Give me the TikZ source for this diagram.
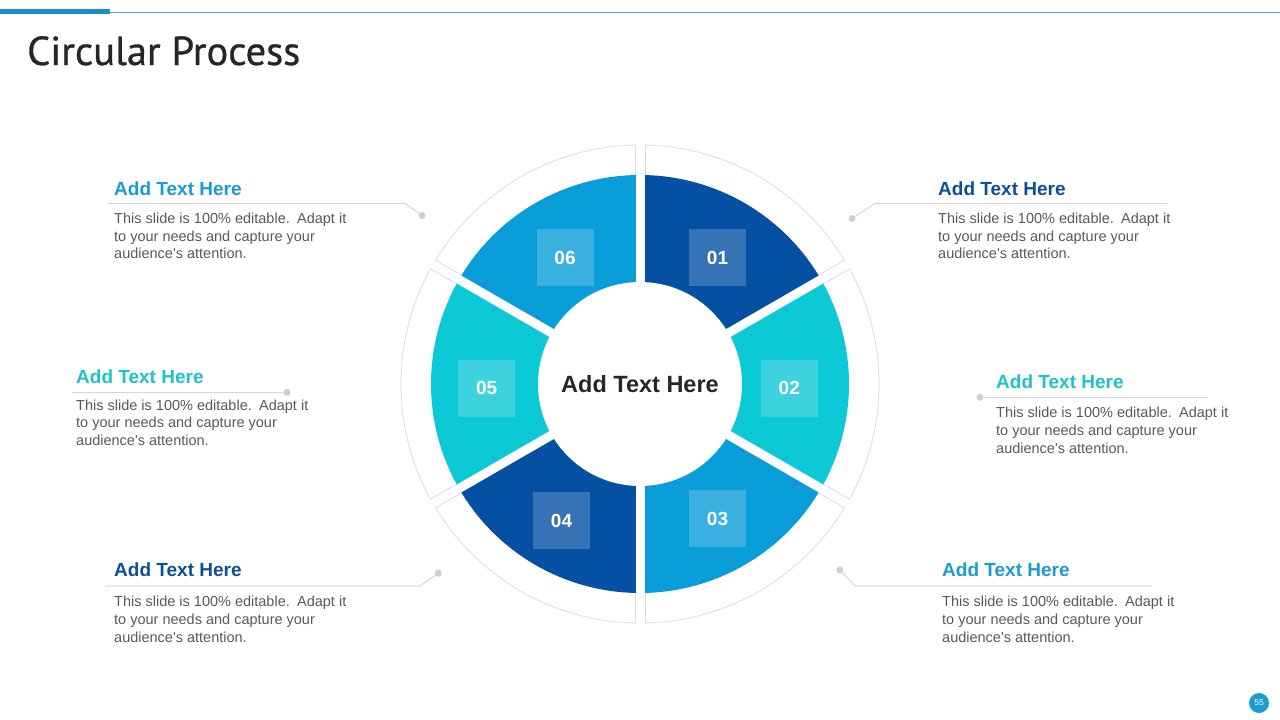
\documentclass[tikz,border=0pt]{standalone}
\usepackage{fontspec}
\setmainfont{Liberation Sans}
\newfontfamily\titlefont[FakeBold=0.7]{PT Sans}
\definecolor{dblue}{HTML}{0450A2}
\definecolor{cyanc}{HTML}{0CC9D6}
\definecolor{mblue}{HTML}{099DD9}
\definecolor{tdblue}{HTML}{0D4F95}
\definecolor{tcyan}{HTML}{1EC2CC}
\definecolor{tmblue}{HTML}{1A9BD2}
\definecolor{bodygrey}{HTML}{595959}
\definecolor{linegrey}{HTML}{D6D6D6}
\definecolor{dotgrey}{HTML}{CFCFCF}
\definecolor{ringgrey}{HTML}{DCDCDC}
\definecolor{darktext}{HTML}{262626}
\definecolor{barblue}{HTML}{1B8DC9}
\definecolor{barteal}{HTML}{40B3CC}
\definecolor{pageblue}{HTML}{1E9AD6}
\newcommand{\bodytext}{This slide is 100\% editable.\hspace{0.5em}Adapt it\\to your needs and capture your\\audience\textquotesingle s attention.}
\begin{document}
\begin{tikzpicture}[x=1pt,y=-1pt,
  heading/.style={anchor=base west, inner sep=0pt, font=\fontsize{19}{22}\selectfont\bfseries},
  body/.style={anchor=north west, inner sep=0pt, align=left, text=bodygrey, font=\fontsize{14.5}{17.7}\selectfont},
  leader/.style={draw=linegrey, line width=1pt},
  dotc/.style={circle, fill=dotgrey, inner sep=0pt, minimum size=7pt},
  numbox/.style={fill=white, fill opacity=0.2, text opacity=1, text=white, minimum size=57pt, inner sep=0pt, font=\fontsize{19}{19}\selectfont\bfseries},
]
\useasboundingbox (0,0) rectangle (1280,720);
\fill[white] (0,0) rectangle (1280,720);
% top bar
\draw[barteal, line width=1pt] (110,12) -- (1280,12);
\fill[barblue] (0,9) rectangle (110,14);
% title
\node[anchor=base west, inner sep=0pt, text=darktext, font=\titlefont\fontsize{40.5}{42}\selectfont] (title) at (27,65) {Circular Process};

% wheel
\begin{scope}[shift={(640,384)}, y=1pt]
  \filldraw[fill=white, draw=ringgrey, line width=0.8pt] (0,0) circle[radius=239pt];
  \foreach \a in {90,30,-30,-90,-150,150}
    \draw[white, line width=9pt] (0,0) -- (\a:246);
  \foreach \a in {90,30,-30,-90,-150,150}
    \draw[ringgrey, line width=0.8pt, rotate=\a] (200,5) -- (238.95,5) (200,-5) -- (238.95,-5);
  \fill[dblue] (0,0) -- (90:209) arc[start angle=90, end angle=30, radius=209pt] -- cycle;
  \fill[cyanc] (0,0) -- (30:209) arc[start angle=30, end angle=-30, radius=209pt] -- cycle;
  \fill[mblue] (0,0) -- (-30:209) arc[start angle=-30, end angle=-90, radius=209pt] -- cycle;
  \fill[dblue] (0,0) -- (-90:209) arc[start angle=-90, end angle=-150, radius=209pt] -- cycle;
  \fill[cyanc] (0,0) -- (210:209) arc[start angle=210, end angle=150, radius=209pt] -- cycle;
  \fill[mblue] (0,0) -- (150:209) arc[start angle=150, end angle=90, radius=209pt] -- cycle;
  \foreach \a in {90,30,-30,-90,-150,150}
    \draw[white, line width=9pt] (0,0) -- (\a:215);
  \fill[white] (0,0) circle[radius=102pt];
\end{scope}

\node[text=darktext, font=\fontsize{23.5}{23.5}\selectfont\bfseries, inner sep=0pt] (center) at (640,384.5) {Add Text Here};

\node[numbox] (n01) at (717.5,257.5) {01};
\node[numbox] (n02) at (789.3,388.3) {02};
\node[numbox] (n03) at (717.5,518.5) {03};
\node[numbox] (n04) at (561.5,520.5) {04};
\node[numbox] (n05) at (486.7,388.3) {05};
\node[numbox] (n06) at (565,257.5) {06};

% leaders
\node[dotc] (d6) at (422,215.5) {};
\coordinate (k6) at (405,203.3);
\coordinate (e6) at (108,203.3);
\draw[leader] (e6) -- (k6) -- (d6);

\node[dotc] (d1) at (852,218.5) {};
\coordinate (k1) at (875,203.5);
\coordinate (e1) at (1167,203.5);
\draw[leader] (d1) -- (k1) -- (e1);

\node[dotc] (d5) at (287,392.3) {};
\coordinate (e5) at (72,392.3);
\draw[leader] (e5) -- (d5);

\node[dotc] (d2) at (980,397.3) {};
\coordinate (e2) at (1208,397.3);
\draw[leader] (d2) -- (e2);

\node[dotc] (d4) at (438.3,573.3) {};
\coordinate (k4) at (420,586);
\coordinate (e4) at (105,586);
\draw[leader] (e4) -- (k4) -- (d4);

\node[dotc] (d3) at (840,570) {};
\coordinate (k3) at (855,586);
\coordinate (e3) at (1152,586);
\draw[leader] (d3) -- (k3) -- (e3);

% headings
\node[heading, text=tmblue] (h6) at (114,195) {Add Text Here};
\node[heading, text=tdblue] (h1) at (938,195) {Add Text Here};
\node[heading, text=tcyan] (h5) at (76,383) {Add Text Here};
\node[heading, text=tcyan] (h2) at (996,388.3) {Add Text Here};
\node[heading, text=tdblue] (h4) at (114,576.7) {Add Text Here};
\node[heading, text=tmblue] (h3) at (942,576.7) {Add Text Here};

% bodies
\node[body] (b6) at (114,212.7) {\bodytext};
\node[body] (b1) at (938,212.7) {\bodytext};
\node[body] (b5) at (76,399.4) {\bodytext};
\node[body] (b2) at (996,407) {\bodytext};
\node[body] (b4) at (114,596) {\bodytext};
\node[body] (b3) at (942,596) {\bodytext};

% page number
\node[circle, fill=pageblue, minimum size=20pt, inner sep=0pt, text=white, font=\fontsize{8.5}{8.5}\selectfont] (page) at (1259,703) {55};
\end{tikzpicture}
\end{document}
